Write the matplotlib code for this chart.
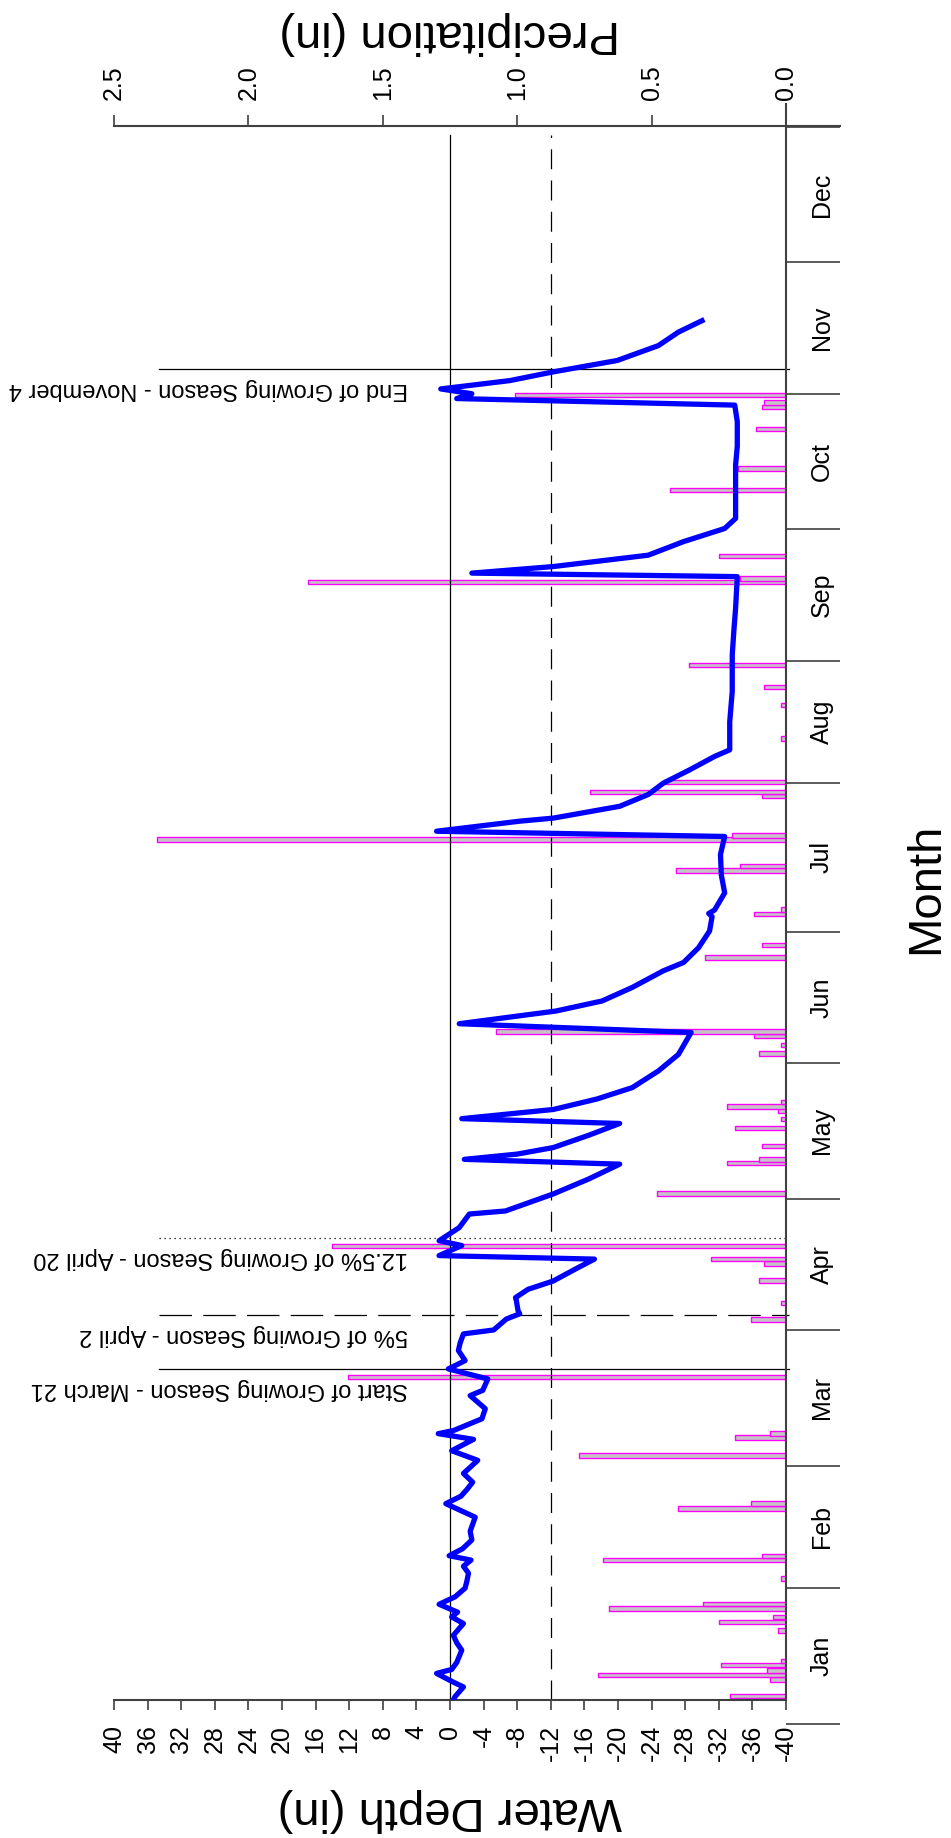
import matplotlib.pyplot as plt
from matplotlib.lines import Line2D
import numpy as np

plt.rcParams['font.family'] = ['Liberation Sans', 'DejaVu Sans']
plt.rcParams['axes.unicode_minus'] = False

# water depth trace (day of year, inches)
depth_day = [5.4, 6.2, 8.4, 9.5, 11.5, 12.4, 14.0, 16.8, 18.5, 20.2, 22.9, 24.4, 25.5, 27.3,
             29.0, 31.0, 32.5, 34.4, 36.0, 37.4, 38.4, 40.0, 42.0, 44.0, 47.2, 50.3, 52.0,
             53.5, 55.2, 57.2, 60.2, 62.4, 65.0, 66.3, 67.0, 69.7, 72.0, 75.0, 76.2, 78.8,
             81.1, 83.0, 85.3, 87.0, 89.1, 90.0, 92.5, 93.7, 94.4, 96.7, 97.4, 99.3, 101.2,
             104.0, 106.2, 107.0, 109.3, 110.4, 113.4, 116.5, 117.2, 121.1, 124.5, 127.9,
             129.0, 130.2, 131.7, 134.5, 137.2, 138.3, 140.4, 142.8, 145.4, 149.2, 153.0,
             158.0, 160.0, 162.9, 165.2, 168.3, 172.1, 174.0, 177.4, 181.2, 184.5, 185.2,
             186.0, 189.9, 194.0, 198.7, 202.8, 204.0, 206.3, 207.0, 209.7, 212.4, 215.0,
             218.0, 221.1, 222.6, 229.0, 236.0, 244.3, 250.0, 255.0, 262.2, 263.0, 264.5,
             267.1, 270.2, 273.2, 275.5, 282.0, 287.7, 292.0, 297.6, 301.4, 302.9, 304.0,
             305.1, 307.0, 309.0, 311.6, 315.0, 318.1, 320.7]
depth_in = [-0.4, -0.6, -1.6, -0.4, 1.6, -0.2, -0.8, -1.4, -0.8, -0.4, -1.6, -0.2, -0.9, 1.3,
            -0.6, -1.8, -2.0, -2.2, -1.6, -2.5, 0.1, -1.5, -2.6, -2.4, -3.0, 0.5, -1.3,
            -2.0, -2.7, -1.6, -3.3, -0.2, -2.8, 1.4, -0.4, -3.8, -4.2, -2.4, -3.9, -4.5,
            0.2, -1.8, -1.0, -1.2, -1.6, -5.2, -6.7, -8.3, -8.1, -7.9, -7.8, -9.3, -12.3,
            -15.0, -17.2, 1.3, -1.4, 1.3, -1.1, -2.3, -6.6, -12.3, -16.5, -20.2,
            -1.7, -8.0, -12.3, -16.5, -20.2, -1.4, -12.3, -17.5, -21.7, -24.8, -27.2,
            -28.7, -1.1, -12.6, -18.1, -21.7, -25.4, -27.8, -29.6, -30.9, -31.2, -30.8,
            -31.5, -32.7, -32.3, -32.2, -32.7, 1.6, -8.3, -12.3, -20.2, -23.6, -25.4,
            -28.5, -31.5, -33.3, -33.3, -33.6, -33.6, -33.8, -34.0, -34.2, -2.6, -12.3,
            -23.6, -27.8, -32.7, -34.0, -34.0, -34.0, -34.2, -34.2, -33.9, -0.8, -2.6,
            1.1, -7.1, -12.3, -19.9, -24.8, -27.2, -30.0]

# daily precipitation (day of year, inches)
rain_day = [6.3, 10.1, 11.2, 12.2, 13.4, 14.4, 21.3, 23.3, 24.4, 26.3, 27.3, 33.2, 37.4, 38.3,
            49.2, 50.3, 61.3, 65.4, 66.3, 79.2, 92.4, 96.2, 101.3, 105.2, 106.2, 109.2,
            121.2, 128.1, 129.0, 132.0, 136.1, 138.2, 140.2, 141.1, 142.1, 153.2, 155.1,
            157.2, 158.2, 175.1, 178.0, 185.1, 186.1, 195.0, 196.0, 202.1, 203.0, 212.0,
            213.0, 215.3, 225.2, 232.9, 236.9, 242.0, 260.9, 261.8, 266.9, 282.0, 286.9,
            295.9, 301.0, 302.0, 303.7]
rain_in = [0.21, 0.06, 0.70, 0.07, 0.24, 0.02, 0.03, 0.25, 0.05, 0.66, 0.31, 0.02, 0.68, 0.09,
           0.40, 0.13, 0.77, 0.19, 0.06, 1.63, 0.13, 0.02, 0.10, 0.08, 0.28, 1.69,
           0.48, 0.22, 0.10, 0.09, 0.19, 0.02, 0.03, 0.22, 0.02, 0.10, 0.02,
           0.12, 1.08, 0.30, 0.09, 0.12, 0.02, 0.41, 0.17, 2.34, 0.20, 0.09,
           0.73, 0.45, 0.02, 0.02, 0.08, 0.36, 1.78, 0.17, 0.25, 0.43, 0.18,
           0.11, 0.09, 0.08, 1.01]

month_edges = [0, 31, 59, 90, 120, 151, 181, 215, 243, 273, 304, 334, 365]
month_names = ['Jan', 'Feb', 'Mar', 'Apr', 'May', 'Jun', 'Jul', 'Aug', 'Sep', 'Oct', 'Nov', 'Dec']

season_day = [81.1, 93.4, 111.1, 309.6]
season_text = ['Start of Growing Season - March 21', '5% of Growing Season - April 2',
               '12.5% of Growing Season - April 20', 'End of Growing Season - November 4']
season_style = ['-', (0, (26, 9)), (0, (1, 3)), '-']

depth_ticks = np.arange(-40, 41, 4)
rain_ticks = [0.0, 0.5, 1.0, 1.5, 2.0, 2.5]

W, H = 951, 1838
def fx(px):
    return px / W
def fy(py):
    return 1 - py / H

axis_col = '#404040'
fig = plt.figure(figsize=(W / 100, H / 100), dpi=100)

# main axes: water depth runs right-to-left, days run bottom-to-top
ax = fig.add_axes([fx(114), fy(1700), (786 - 114) / W, (1700 - 126) / H])
ax.set_xlim(40, -40)
ax.set_ylim(5.42, 365.2)

axp = ax.twiny()
axp.set_xlim(2.5, 0)
axp.barh(rain_day, rain_in, height=1.0, left=0, color='#c4c4c4', edgecolor='#ff00ff', linewidth=1.0)

ax.set_zorder(axp.get_zorder() + 1)
ax.patch.set_visible(False)

ax.plot(depth_in, depth_day, color='#0000ff', lw=3.8, solid_joinstyle='round', zorder=5)

# reference depths: ground surface and 12 in
ax.axvline(0, ymin=0, ymax=0.994, color='black', lw=0.9)
ax.axvline(-12, ymin=0, ymax=0.994, color='black', lw=0.9, dashes=(16, 9))

for d, t, ls in zip(season_day, season_text, season_style):
    ax.plot([34.6, -40.4], [d, d], color='black', lw=0.9, linestyle=ls, clip_on=False)
    ax.text(5.0, d - 4.6, t, rotation=180, ha='right', va='center', fontsize=17)

for s in ['left', 'top']:
    ax.spines[s].set_visible(False)
for s in ['bottom', 'right']:
    ax.spines[s].set_color(axis_col)
    ax.spines[s].set_linewidth(1.5)
for s in ['left', 'right', 'bottom']:
    axp.spines[s].set_visible(False)
axp.spines['top'].set_color(axis_col)
axp.spines['top'].set_linewidth(1.5)

ax.set_xticks(depth_ticks)
ax.set_xticklabels([str(v) for v in depth_ticks], rotation=90)
ax.tick_params(axis='x', direction='out', length=7, width=1.2, pad=11, labelsize=18,
               color=axis_col)
ax.set_yticks([])

axp.set_xticks(rain_ticks)
axp.set_xticklabels(['%.1f' % v for v in rain_ticks], rotation=90)
axp.tick_params(axis='x', direction='out', length=8, width=1.2, pad=11, labelsize=18,
                color=axis_col)
axp.set_yticks([])

# month scale on the right
axm = fig.add_axes([fx(114), fy(1723.7), (786 - 114) / W, (1723.7 - 126.8) / H])
axm.set_ylim(0, 365)
axm.patch.set_visible(False)
for s in axm.spines.values():
    s.set_visible(False)
axm.set_xticks([])
axm.yaxis.tick_right()
axm.set_yticks(month_edges)
axm.set_yticklabels([])
mids = [(a + b) / 2 for a, b in zip(month_edges[:-1], month_edges[1:])]
axm.set_yticks(mids, minor=True)
axm.set_yticklabels(month_names, minor=True, rotation=90, va='center')
axm.tick_params(axis='y', which='major', direction='out', length=39, width=1.2, color=axis_col)
axm.tick_params(axis='y', which='minor', length=0, pad=17, labelsize=18)

# axis lines running past the plotting area
fig.add_artist(Line2D([fx(786), fx(840)], [fy(126), fy(126)], color=axis_col, lw=1.5))
fig.add_artist(Line2D([fx(786), fx(786)], [fy(126), fy(104)], color=axis_col, lw=1.5))

fig.text(fx(450), fy(1810), 'Water Depth (in)', rotation=180, ha='center', va='center', fontsize=34)
fig.text(fx(450), fy(33), 'Precipitation (in)', rotation=180, ha='center', va='center', fontsize=34)
fig.text(fx(926), fy(888), 'Month', rotation=90, ha='center', va='center', fontsize=34)

fig.savefig('out.png', dpi=100)
